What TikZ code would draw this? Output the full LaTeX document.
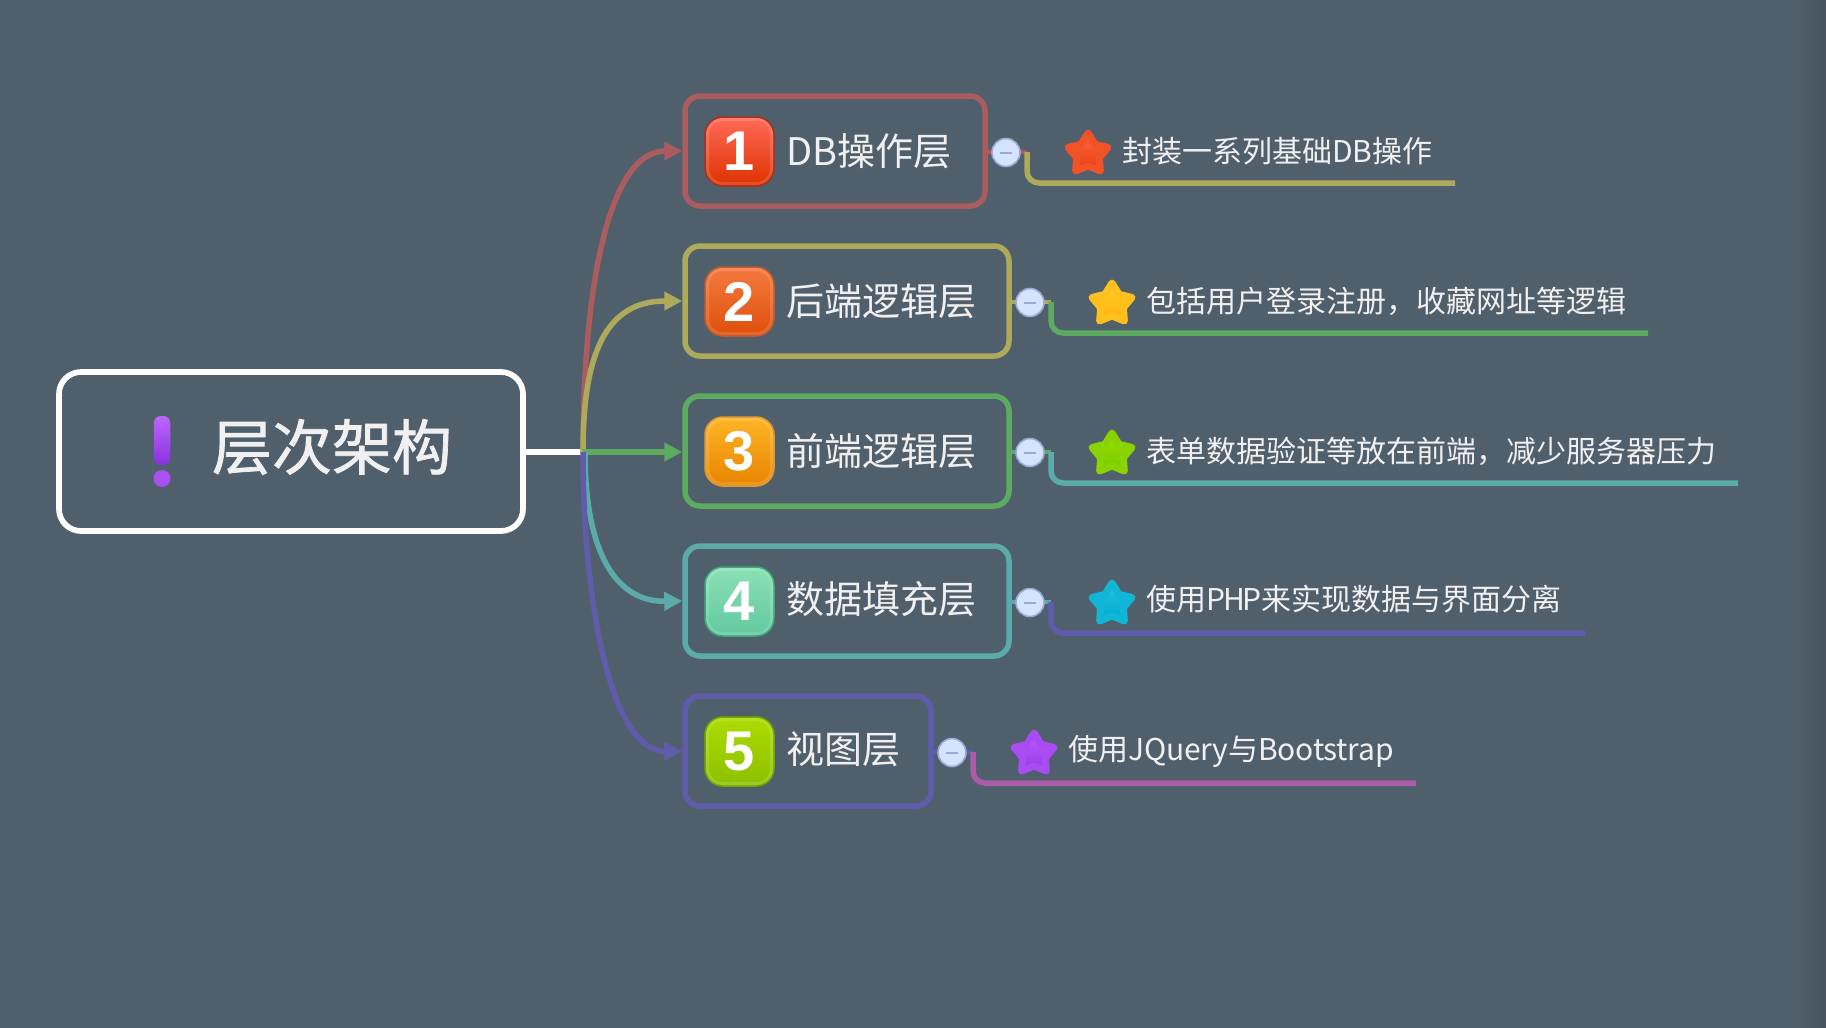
\documentclass[tikz,border=0pt]{standalone}
\usepackage{fontspec}
\setmainfont{Noto Sans CJK SC}
\newfontfamily\rootfont[FakeBold=1.2]{Noto Sans CJK SC}
\newfontfamily\digitfont{Liberation Sans Bold}
\usetikzlibrary{arrows.meta,shapes.geometric,calc}
\definecolor{bgc}{HTML}{505F6C}
\definecolor{bgd}{HTML}{47545F}
\definecolor{cred}{HTML}{AB5C5F}
\definecolor{colive}{HTML}{ADAA5C}
\definecolor{cgreen}{HTML}{5CAB60}
\definecolor{cteal}{HTML}{5CABAB}
\definecolor{cindigo}{HTML}{5F5CAB}
\definecolor{cmag}{HTML}{AB5CA8}
\definecolor{txt}{HTML}{F0F0F0}
\definecolor{MinusF}{HTML}{D5E3FF}
\definecolor{MinusB}{HTML}{9AA9D6}
\definecolor{i1a}{HTML}{FF6A58}\definecolor{i1b}{HTML}{DE3200}\definecolor{i1c}{HTML}{A83020}
\definecolor{i2a}{HTML}{F47A40}\definecolor{i2b}{HTML}{DE4F0A}\definecolor{i2c}{HTML}{C05A30}
\definecolor{i3a}{HTML}{FDB526}\definecolor{i3b}{HTML}{E88400}\definecolor{i3c}{HTML}{E09A30}
\definecolor{i4a}{HTML}{8BE0B5}\definecolor{i4b}{HTML}{62C8A0}\definecolor{i4c}{HTML}{3FA878}
\definecolor{i5a}{HTML}{ACDC00}\definecolor{i5b}{HTML}{8CC000}\definecolor{i5c}{HTML}{74A800}
\definecolor{s1a}{HTML}{FF6640}\definecolor{s1b}{HTML}{E63E10}
\definecolor{s2a}{HTML}{FFD02A}\definecolor{s2b}{HTML}{FDB010}
\definecolor{s3a}{HTML}{9AE000}\definecolor{s3b}{HTML}{78C800}
\definecolor{s4a}{HTML}{20C4E0}\definecolor{s4b}{HTML}{00A8CC}
\definecolor{s5a}{HTML}{B860FF}\definecolor{s5b}{HTML}{9A38E8}
\definecolor{exa}{HTML}{BE66FF}\definecolor{exb}{HTML}{8A30E0}
\newcommand{\tightlatin}[2]{{\addfontfeature{LetterSpace=#1}#2}}
\tikzset{
 x=1pt,y=-1pt,
 boxn/.style={draw=#1,line width=5.5pt,rounded corners=15pt,minimum height=110pt,inner sep=0pt},
 rootn/.style={draw=white,line width=5.7pt,rounded corners=22pt,minimum width=464pt,minimum height=159pt,inner sep=0pt},
 arr/.style={draw=#1,line width=5.5pt,-{Triangle[length=18pt,width=18pt]}},
 stub/.style={draw=#1,line width=3.5pt},
 branch/.style={draw=#1,line width=5.5pt,rounded corners=12pt},
 lab/.style={text=txt,anchor=west,inner sep=0pt,font=\fontsize{38}{38}\selectfont},
 sub/.style={text=txt,anchor=west,inner sep=0pt,font=\fontsize{30}{30}\selectfont},
 icon/.style={rounded corners=18pt,minimum size=69pt,inner sep=0pt,top color=i#1a,bottom color=i#1b,draw=i#1c,line width=1.5pt,text=white,font=\digitfont\fontsize{56}{56}\selectfont,
   path picture={\draw[white,opacity=.14,line width=3pt,rounded corners=15pt]
     ($(path picture bounding box.south west)+(2.5,-2.5)$) rectangle ($(path picture bounding box.north east)+(-2.5,2.5)$);}},
 starn/.style={star,star points=5,star point ratio=1.75,minimum size=42pt,inner sep=0pt,top color=s#1a,bottom color=s#1b,draw=s#1b!50!s#1a,line width=7pt,line join=round},
 minusn/.style={circle,minimum size=28pt,inner sep=0pt,fill=MinusF,draw=MinusB,line width=1.6pt},
 minusbar/.style={draw=MinusB,line width=2pt},
}
\begin{document}
\begin{tikzpicture}
\useasboundingbox (0,0) rectangle (1826,1028);
\fill[bgc] (0,0) rectangle (1826,1028);
\shade[left color=bgc,right color=bgd] (1795,0) rectangle (1826,1028);

% root
\node[rootn] (root) at (291,451.5) {};
\node[text=txt,inner sep=0pt,font=\rootfont\fontsize{60}{60}\selectfont] (roottext) at (332,447) {层次架构};
\node[rounded corners=7pt,minimum width=16.5pt,minimum height=49pt,inner sep=0pt,top color=exa,bottom color=exb] (bar) at (162,440.5) {};
\node[circle,minimum size=17pt,inner sep=0pt,fill=exa!60!exb] (dot) at (162,478.5) {};

% boxes
\node[boxn=cred,minimum width=300pt] (b1) at (835,151) {};
\node[boxn=colive,minimum width=324pt] (b2) at (847,301) {};
\node[boxn=cgreen,minimum width=324pt] (b3) at (847,451) {};
\node[boxn=cteal,minimum width=324pt] (b4) at (847,601) {};
\node[boxn=cindigo,minimum width=246pt] (b5) at (808,751) {};

% connectors from the root
\coordinate (j) at (583,452);
\coordinate (jt) at (585,452);
\draw[white,line width=5.7pt] (root.east |- j) -- (j);
\draw[arr=cred] (j) .. controls (583,290) and (608,151) .. (b1.west);
\draw[arr=colive] (j) .. controls (583,355) and (605,301) .. (b2.west);
\draw[arr=cgreen] (j) -- (j -| b3.west);
\draw[arr=cteal] (jt) .. controls (585,553) and (616,602) .. (b4.west);
\draw[arr=cindigo] (j) .. controls (583,599) and (610,752) .. (b5.west);

% icons and labels
\node[icon=1] (i1) at (739.5,151.5) {1};
\node[icon=2] (i2) at (739.5,301.5) {2};
\node[icon=3] (i3) at (739.5,451.5) {3};
\node[icon=4] (i4) at (739.5,601.5) {4};
\node[icon=5] (i5) at (739.5,751.5) {5};
\node[lab] (l1) at (786,151.5) {DB操作层};
\node[lab] (l2) at (786,301) {后端逻辑层};
\node[lab] (l3) at (786,451) {前端逻辑层};
\node[lab] (l4) at (786,599) {数据填充层};
\node[lab] (l5) at (786,749) {视图层};

% stubs and branches
\coordinate (e1) at (1027,152); \coordinate (f1) at (1455,183);
\coordinate (e2) at (1051,302); \coordinate (f2) at (1648,333);
\coordinate (e3) at (1051,452); \coordinate (f3) at (1738,483);
\coordinate (e4) at (1051,602); \coordinate (f4) at (1585,633);
\coordinate (e5) at (973,752);  \coordinate (f5) at (1416,783);
\draw[stub=cred] (b1.east |- e1) -- (e1);
\draw[stub=colive] (b2.east |- e2) -- (e2);
\draw[stub=cgreen] (b3.east |- e3) -- (e3);
\draw[stub=cteal] (b4.east |- e4) -- (e4);
\draw[stub=cindigo] (b5.east |- e5) -- (e5);
\draw[branch=colive] (e1) |- (f1);
\draw[branch=cgreen] (e2) |- (f2);
\draw[branch=cteal] (e3) |- (f3);
\draw[branch=cindigo] (e4) |- (f4);
\draw[branch=cmag] (e5) |- (f5);

% collapse buttons
\node[minusn] (m1) at (1006,152.5) {};
\node[minusn] (m2) at (1030,302.5) {};
\node[minusn] (m3) at (1030,452.5) {};
\node[minusn] (m4) at (1030,602.5) {};
\node[minusn] (m5) at (952,752.5) {};
\foreach \m in {m1,m2,m3,m4,m5}{
  \draw[minusbar] ($(\m.center)+(-6,0)$) -- ($(\m.center)+(6,0)$);
}

% stars
\node[starn=1] (s1) at (1088,154) {};
\node[starn=2] (s2) at (1112,304) {};
\node[starn=3] (s3) at (1112,454) {};
\node[starn=4] (s4) at (1112,604) {};
\node[starn=5] (s5) at (1034,754) {};

% notes
\node[sub] (n1) at (1122,151) {封装一系列基础DB操作};
\node[sub] (n2) at (1146,301) {包括用户登录注册，收藏网址等逻辑};
\node[sub] (n3) at (1146,451) {表单数据验证等放在前端，减少服务器压力};
\node[sub] (n4) at (1146,599) {使用\tightlatin{-7}{PHP}来实现数据与界面分离};
\node[sub] (n5) at (1068.5,751) {使用\tightlatin{-1}{JQuery}与\tightlatin{-1}{Bootstrap}};
\end{tikzpicture}
\end{document}
